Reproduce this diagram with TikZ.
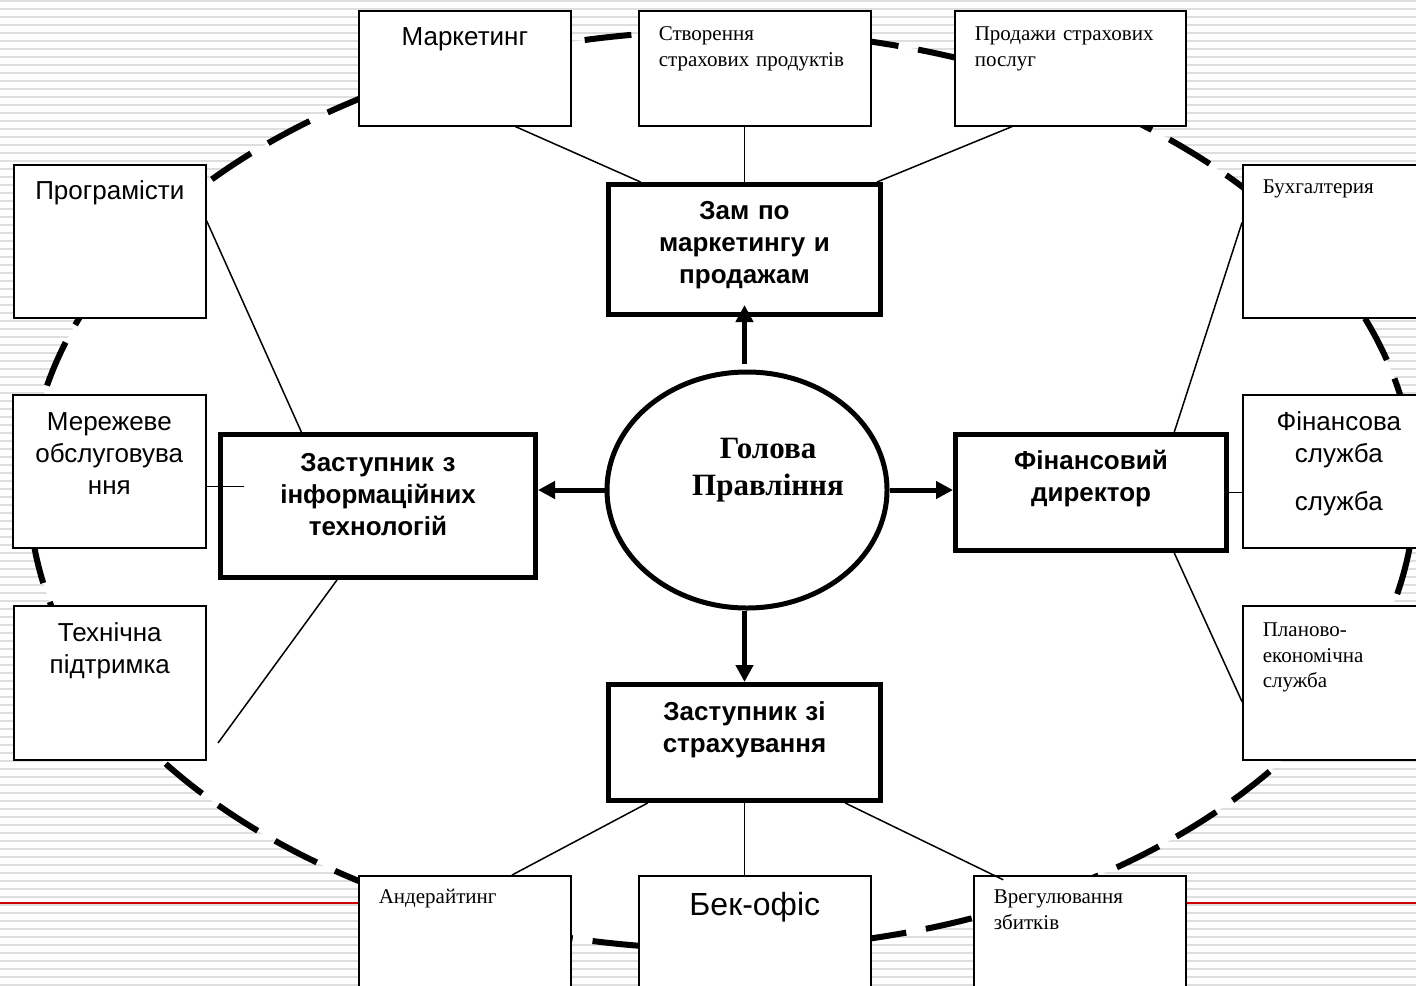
\documentclass[tikz,border=0pt]{standalone}
\usepackage{fontspec}
\setmainfont{Liberation Serif}
\setsansfont{Liberation Sans}
\usetikzlibrary{arrows.meta,shapes.geometric}

\begin{document}
\begin{tikzpicture}[x=0.5pt, y=-0.5pt,
  stripe/.style = {draw=black!13, line width=0.6pt},
  ring/.style = {line width=3pt, dash pattern=on 23.5pt off 10pt, fill=white},
  unit/.style = {draw, line width=0.8pt, fill=white, anchor=north west,
    inner sep=0pt, align=center, font=\sffamily\fontsize{13}{16}\selectfont},
  note/.style = {draw, line width=0.8pt, fill=white, anchor=north west,
    inner xsep=10pt, inner ysep=0pt, align=left, font=\fontsize{10.5}{12.75}\selectfont},
  chief/.style = {draw, line width=2.5pt, fill=white, anchor=north west,
    inner sep=0pt, align=center, font=\sffamily\bfseries\fontsize{13}{16}\selectfont},
  link/.style = {line width=0.75pt},
  arr/.style = {line width=2.5pt, -{Triangle[length=8.5pt, width=8.5pt]}}]
  \useasboundingbox (0,0) rectangle (1416,985);
  \clip (0,0) rectangle (1416,985);
  % slide background
  \fill[white] (0,0) rectangle (1416,985);
  \foreach \y in {1,9,...,985}
    \draw[stripe] (0,\y) -- (1416,\y);
  \draw[line width=0.75pt, red!80!black] (0,903) -- (1416,903);
  \draw[ring] (722,490) ellipse [x radius=346.5pt, y radius=229.5pt];

  \node[unit, text width=106pt, text height=17.5pt, text depth=40pt] (mkt) at (358,10) {Маркетинг};
  \node[note, text width=96pt, text height=15pt, text depth=42.5pt] (prod) at (638,10) {Створення\\страхових продуктів};
  \node[note, text width=95.5pt, text height=15pt, text depth=42.5pt] (sales) at (954,10) {Продажи страхових\\послуг};
  \node[unit, text width=96pt, text height=17.5pt, text depth=59pt] (prog) at (13,164) {Програмісти};
  \node[unit, text width=96.5pt, text height=18pt, text depth=58.5pt] (net) at (12,394) {Мережеве\\обслуговува\\ння};
  \node[unit, text width=96pt, text height=18pt, text depth=59pt] (tech) at (13,605) {Технічна\\підтримка};
  \node[note, text width=76pt, text height=14.5pt, text depth=62pt] (acc) at (1242,164) {Бухгалтерия};
  \node[unit, text width=96pt, text height=18pt, text depth=58.5pt] (fin) at (1242,394) {Фінансова\\служба\\[8pt]служба};
  \node[note, text width=76pt, text height=15.5pt, text depth=61.5pt] (plan) at (1242,605) {Планово-\\економічна\\служба};
  \node[note, text width=86pt, text height=14pt, text depth=43.5pt] (und) at (358,875) {Андерайтинг};
  \node[unit, font=\sffamily\fontsize{16}{19}\selectfont, text width=116pt,
    text height=20pt, text depth=37.5pt] (back) at (638,875) {Бек-офіс};
  \node[note, text width=86pt, text height=14pt, text depth=43.5pt] (claims) at (973,875) {Врегулювання\\збитків};

  \node[chief, text width=136pt, text height=17.5pt, text depth=47.5pt] (mgr) at (606,182) {Зам по\\маркетингу и\\продажам};
  \node[chief, text width=157.5pt, text height=18.5pt, text depth=53pt] (it) at (218,432) {Заступник з\\інформаційних\\технологій};
  \node[chief, text width=135.5pt, text height=17.5pt, text depth=40.5pt] (cfo) at (953,432) {Фінансовий\\директор};
  \node[chief, text width=136pt, text height=18pt, text depth=40pt] (ins) at (606,682) {Заступник зі\\страхування};

  \node[ellipse, draw, line width=2.5pt, fill=white, inner sep=0pt,
    minimum width=140pt, minimum height=118pt] (head) at (747,490) {};
  \node[font=\bfseries\fontsize{15.5}{18.5}\selectfont, align=center, text width=90pt,
    anchor=base, inner sep=0pt] (headtxt) at (768,458) {Голова\\Правління};

  % thin links to the units
  \draw[link] (mkt.-49.6) -- (mgr.147);
  \draw[link] (mgr.north) -- (mgr.north |- prod.south);
  \draw[link] (sales.-135) -- (mgr.27.3);
  \draw[link] (prog.12) -- (it.136.6);
  \draw[link, shorten >=-13pt] (net.-9.7) -- (net.-9.7 -| it.west);
  \coordinate (techend) at (218,743);
  \draw[link] (techend) -- (it.-119.5);
  \draw[link] (acc.169.1) -- (cfo.36.8);
  \draw[link] (cfo.east) -- (cfo.east -| fin.west);
  \draw[link] (plan.-169.4) -- (cfo.-36.8);
  \draw[link] (ins.-148.3) -- (und.51.3);
  \draw[link] (ins.south) -- (ins.south |- back.north);
  \draw[link, shorten >=-5.5pt] (ins.-31.1) -- (claims.146.8);

  \draw[arr, shorten <=3pt, shorten >=-6pt] (mgr.south |- head.north) -- (mgr.south);
  \draw[arr] (head.west) -- (head.west -| it.east);
  \draw[arr] (head.east) -- (head.east -| cfo.west);
  \draw[arr] (ins.north |- head.south) -- (ins.north);
\end{tikzpicture}
\end{document}
